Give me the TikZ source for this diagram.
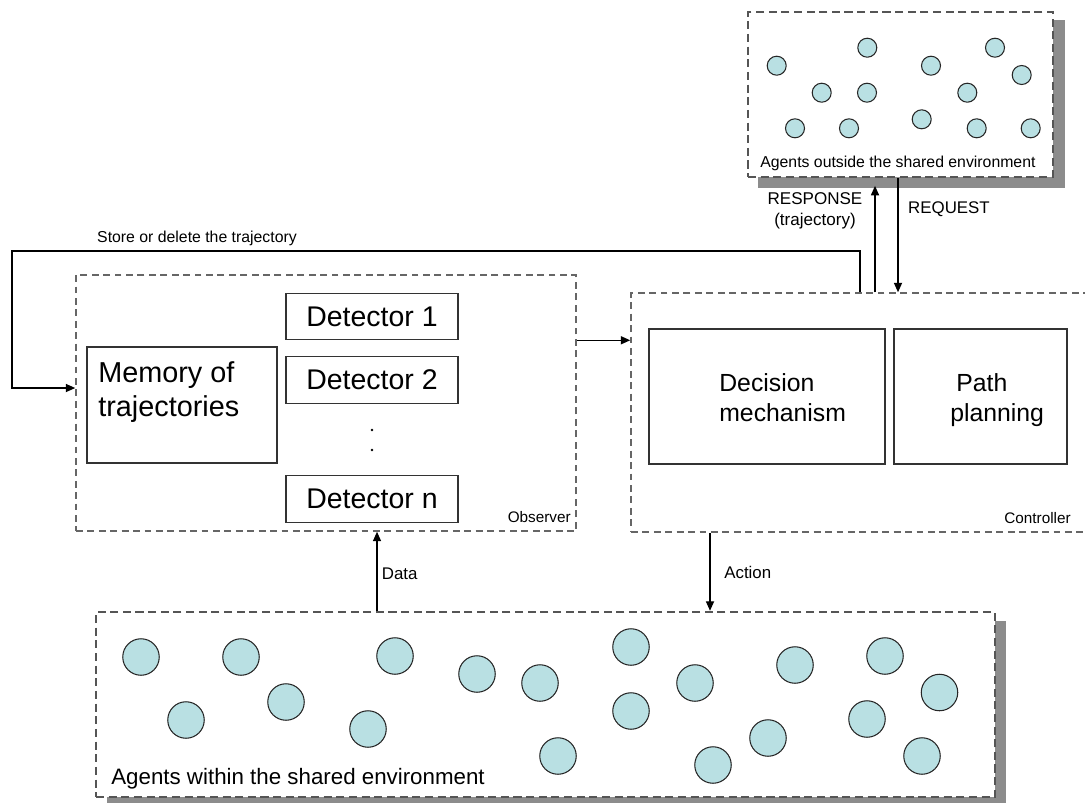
\documentclass[tikz,border=0pt]{standalone}
\usepackage{fontspec}
\setmainfont{Liberation Sans}
\usetikzlibrary{arrows.meta,fit}
\definecolor{agentfill}{HTML}{B9E0E3}
\definecolor{envline}{HTML}{555555}
\definecolor{unitline}{HTML}{666666}
\definecolor{shadowgray}{HTML}{8C8C8C}
\newcommand{\fsz}[1]{\fontsize{#1}{1.2\dimexpr #1pt\relax}\selectfont}

\begin{document}
\begin{tikzpicture}[x=0.02cm,y=-0.02cm,
  envbox/.style={draw=envline, line width=1.4pt, dash pattern=on 4.6pt off 2.6pt,
    fill=white, inner sep=0pt},
  envshadow/.style={fill=shadowgray, draw=none, inner sep=0pt},
  unitbox/.style={draw=unitline, line width=0.85pt, dash pattern=on 3.9pt off 2.6pt,
    inner sep=0pt},
  solidbox/.style={draw=black!80, line width=0.6pt, inner sep=0pt},
  agent/.style={circle, draw=black!85, line width=0.6pt, fill=agentfill, inner sep=0pt},
  bigagent/.style={agent, minimum size=0.73cm},
  smallagent/.style={agent, minimum size=0.38cm},
  arr/.style={draw=black, line width=0.8pt, -{Triangle[length=5.4pt,width=4.6pt]}},
  lbl/.style={inner sep=0pt, font=\fsz{9.6}},
  small/.style={inner sep=0pt, font=\fsz{9}},
  detbox/.style={solidbox, font=\fsz{16.2}, minimum width=3.44cm, minimum height=0.93cm},
]
\useasboundingbox (0,0) rectangle (1085,802);
\clip (0,0) rectangle (1085,802);

% agents outside the shared environment
\node[envshadow, fit={(758,20) (1065,188)}] (outshadow) {};
\node[envbox, fit={(748,12) (1053,177)}] (outside) {};
\foreach \px/\py [count=\i] in {776.7/65.7, 867.3/47.7, 821.7/92.7, 867/92.7, 795/128.3,
    849/128.3, 931/65.7, 995/47.7, 1021.7/75, 967.3/92.7, 921.7/119.3, 976.7/128.3, 1030.7/128.3}
  \node[smallagent] (out\i) at (\px,\py) {};
\node[small, anchor=base west] (outlabel) at (760,167) {Agents outside the shared environment};

% agents within the shared environment
\node[envshadow, fit={(107,621) (1006,812)}] (inshadow) {};
\node[envbox, fit={(96,612) (995,797)}] (inside) {};
\foreach \px/\py [count=\i] in {141/657, 241/657, 186/720, 286/702, 395/656, 368/729,
    477/674, 540/683, 631/647, 631/711, 558/756, 695/683, 713/765, 768/738, 795/665,
    885/656, 939.5/692.5, 867/719, 922/756}
  \node[bigagent] (in\i) at (\px,\py) {};
\node[inner sep=0pt, font=\fsz{12.7}, anchor=base west] (inlabel) at (111,784)
  {Agents within the shared environment};

% observer
\node[unitbox, fit={(76,275) (576,531)}] (obs) {};
\node[small, anchor=base east, font=\fsz{8.7}] (obslabel) at (571,522) {Observer};
\node[solidbox, fit={(87,347) (277,463)}] (memory) {};
\node[inner sep=0pt, anchor=north west, align=left, font=\fontsize{16.4}{19.3}\selectfont]
  (memtext) at (98,361) {Memory of\\trajectories};
\node[detbox] (det1) at (372,316.5) {Detector 1};
\node[detbox] (det2) at (372,380) {Detector 2};
\node[detbox] (detn) at (372,499) {Detector n};
\fill (372,430) circle[radius=0.75pt] (372,450) circle[radius=0.75pt];

% controller
\node[unitbox, fit={(631,293) (1095,532)}] (ctrl) {};
\node[small, anchor=base east, font=\fsz{8.7}] (ctrllabel) at (1071,523) {Controller};
\node[solidbox, fit={(649,329) (885,464)}] (decision) {};
\node[inner sep=0pt, anchor=north west, align=left, font=\fontsize{14.1}{17.4}\selectfont]
  (dectext) at (719,373) {Decision\\mechanism};
\node[solidbox, fit={(894,329) (1067,464)}] (path) {};
\node[inner sep=0pt, anchor=north west, align=left, font=\fontsize{14.1}{17.4}\selectfont]
  (pathtext) at (950,373) {\hspace{3.4pt}Path\\planning};

% connector positions
\coordinate (storex) at (860,251);
\coordinate (storeleft) at (12,251);
\coordinate (storein) at (12,388);
\coordinate (respx) at (875,0);
\coordinate (reqx) at (898,0);
\coordinate (datax) at (377,0);
\coordinate (actx) at (710,0);

% connectors
\draw[arr] (obs.east |- det1.south) -- (ctrl.west |- det1.south);
\draw[arr] (ctrl.north -| storex) |- (storeleft) |- (obs.west |- storein);
\node[small] (storelabel) at (197,238) {Store or delete the trajectory};
\draw[arr] (ctrl.north -| respx) -- ([yshift=0.05cm]outshadow.south -| respx);
\draw[arr] (outside.south -| reqx) -- (ctrl.north -| reqx);
\node[lbl, align=center, font=\fontsize{9.7}{11.9}\selectfont] (resplabel) at (815,211)
  {RESPONSE\\(trajectory)};
\node[lbl] (reqlabel) at (949,209) {REQUEST};
\draw[arr] (inside.north -| datax) -- (obs.south -| datax);
\node[lbl, anchor=west] (datalabel) at (381.5,574) {Data};
\draw[arr] (ctrl.south -| actx) -- (inside.north -| actx);
\node[lbl, anchor=west] (actlabel) at (724,572) {Action};
\end{tikzpicture}
\end{document}
